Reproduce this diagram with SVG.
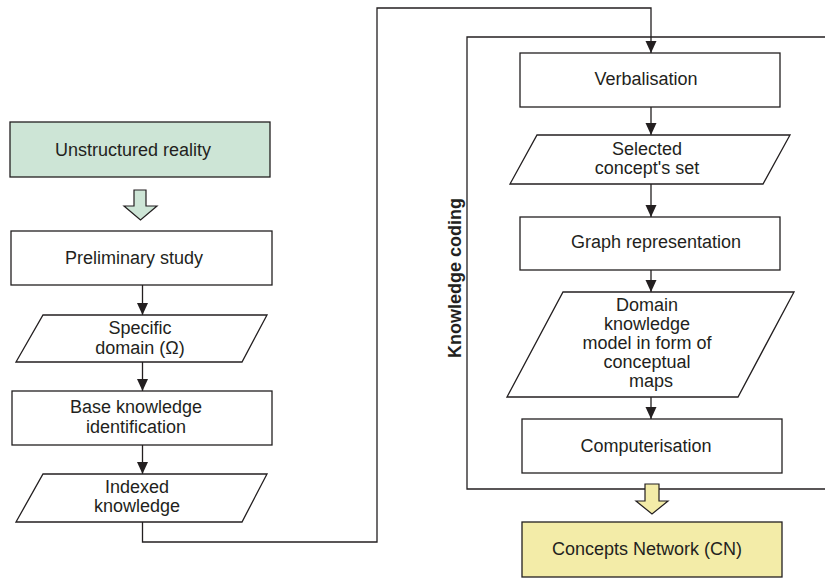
<svg xmlns="http://www.w3.org/2000/svg" width="825" height="578" viewBox="0 0 825 578">
<defs>
<marker id="ah" viewBox="0 0 12 12" refX="12" refY="6" markerWidth="12" markerHeight="12" markerUnits="userSpaceOnUse" orient="auto">
<path d="M0,0.5 L12,6 L0,11.5 z" fill="#231f20"/>
</marker>
<style>
.box{fill:#fff;stroke:#231f20;stroke-width:1.3}
.t{font-family:"Liberation Sans",Arial,sans-serif;font-size:18px;fill:#231f20;text-anchor:middle}
.c{fill:none;stroke:#231f20;stroke-width:1.3}
.ca{fill:none;stroke:#231f20;stroke-width:1.3;marker-end:url(#ah)}
</style>
</defs>
<rect width="825" height="578" fill="#fff"/>

<g id="frame">
<path class="c" d="M825,37 H467 V489 H825"/>
<text class="t" style="font-weight:bold" transform="translate(455,278) rotate(-90)" dominant-baseline="central">Knowledge coding</text>
</g>

<g id="connectors">
<line class="ca" x1="142.5" y1="285" x2="142.5" y2="315"/>
<line class="ca" x1="142.5" y1="362" x2="142.5" y2="391"/>
<line class="ca" x1="142.5" y1="445" x2="142.5" y2="474"/>
<path class="ca" d="M142.5,522 V542 H377 V8 H651 V53"/>
<line class="ca" x1="651" y1="107" x2="651" y2="135"/>
<line class="ca" x1="651" y1="184" x2="651" y2="217"/>
<line class="ca" x1="651" y1="270" x2="651" y2="292"/>
<line class="ca" x1="651" y1="397" x2="651" y2="419"/>
<path d="M134,190 H146 V206 H157 L140.5,220 L124,206 H134 Z" fill="#cde5d6" stroke="#231f20" stroke-width="1.2"/>
<path d="M645,484 H659 V501 H668 L652,514 L636,501 H645 Z" fill="#f3eca8" stroke="#231f20" stroke-width="1.2"/>
</g>

<g id="unstructured">
<rect class="box" x="10" y="122" width="260" height="55" style="fill:#cde5d6"/>
<text class="t" x="133" y="156">Unstructured reality</text>
</g>

<g id="preliminary">
<rect class="box" x="11" y="231" width="261" height="54"/>
<text class="t" x="134" y="264">Preliminary study</text>
</g>

<g id="specific">
<path class="box" d="M43,315 H267 L242,362 H16 Z"/>
<text class="t" x="140" y="334">Specific</text>
<text class="t" x="140" y="354">domain (Ω)</text>
</g>

<g id="base">
<rect class="box" x="12" y="391" width="260" height="54"/>
<text class="t" x="136" y="413">Base knowledge</text>
<text class="t" x="136" y="433">identification</text>
</g>

<g id="indexed">
<path class="box" d="M43,474 H267 L242,522 H16 Z"/>
<text class="t" x="137" y="493">Indexed</text>
<text class="t" x="137" y="512">knowledge</text>
</g>

<g id="verbalisation">
<rect class="box" x="520" y="53" width="260" height="54"/>
<text class="t" x="646" y="85">Verbalisation</text>
</g>

<g id="selected">
<path class="box" d="M537,135 H790 L763,184 H510 Z"/>
<text class="t" x="647" y="155">Selected</text>
<text class="t" x="647" y="174">concept's set</text>
</g>

<g id="graph">
<rect class="box" x="520" y="217" width="260" height="53"/>
<text class="t" x="656" y="248">Graph representation</text>
</g>

<g id="domain">
<path class="box" d="M563,292 H794 L738,397 H507 Z"/>
<text class="t" x="647" y="311">Domain</text>
<text class="t" x="647" y="330">knowledge</text>
<text class="t" x="647" y="349">model in form of</text>
<text class="t" x="647" y="368">conceptual</text>
<text class="t" x="651" y="387">maps</text>
</g>

<g id="computerisation">
<rect class="box" x="522" y="419" width="260" height="54"/>
<text class="t" x="646" y="452">Computerisation</text>
</g>

<g id="cn">
<rect class="box" x="522" y="522" width="260" height="55" style="fill:#f3eca8"/>
<text class="t" x="647" y="555">Concepts Network (CN)</text>
</g>
</svg>
